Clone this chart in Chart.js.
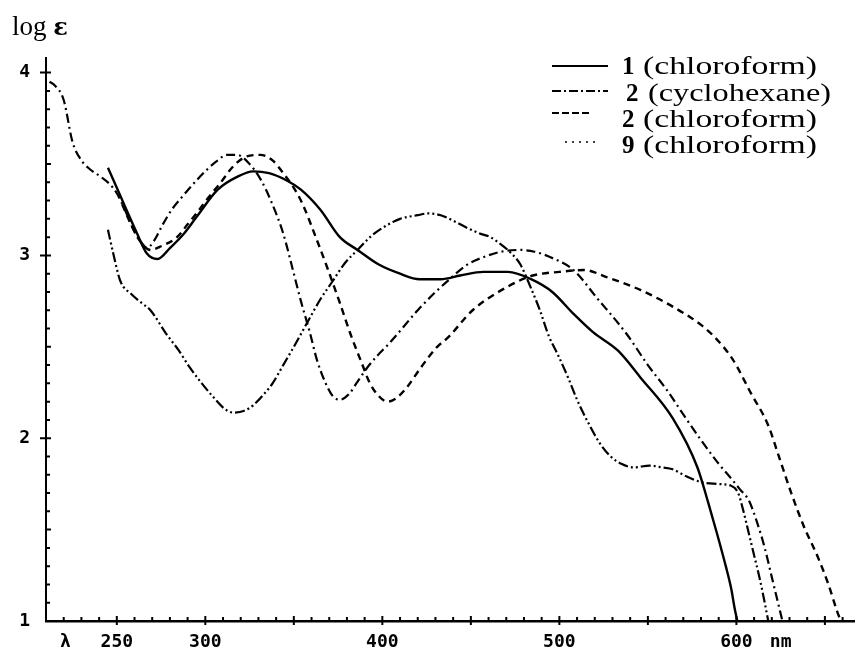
<!DOCTYPE html>
<html>
<head>
<meta charset="utf-8">
<script src="https://cdn.jsdelivr.net/npm/chart.js@4.4.1/dist/chart.umd.min.js"></script>
<style>
  body { margin: 0; background: #fff; }
  #wrap { position: relative; width: 855px; height: 656px; overflow: hidden; }
  #ylabel { position: absolute; left: 12px; top: 11px; font-family: "Liberation Serif", serif; font-size: 27px; color: #000; white-space: nowrap; }
  #ylabel b { font-family: "DejaVu Serif", serif; font-size: 24px; }
  .row { position: absolute; left: 0; height: 30px; white-space: nowrap; font-family: "Liberation Serif", serif; font-size: 25px; color: #000; }
  .row span { position: absolute; top: 0; line-height: 30px; transform-origin: 0 50%; }
  .row .num { font-weight: bold; }
  #samples { position: absolute; left: 0; top: 0; }
</style>
</head>
<body>
<div id="wrap">
  <canvas id="uvChart" width="855" height="656"></canvas>
  <div id="ylabel">log <b>ε</b></div>
  <svg id="samples" width="855" height="200"></svg>
  <div id="legend"></div>
</div>
<script>
// spectra: wavelength (nm) / log eps
const wl1 = [245, 250, 255, 261, 267, 273, 280, 288, 295, 307, 318, 327, 336, 346, 354, 365, 376, 386, 398, 410, 421, 433, 444, 457, 471, 484, 496, 508, 519, 533, 546, 564, 578, 584, 589, 594, 597, 599, 600.5];
const log1 = [3.48, 3.37, 3.26, 3.13, 3.01, 2.98, 3.04, 3.12, 3.21, 3.36, 3.43, 3.46, 3.45, 3.41, 3.36, 3.25, 3.10, 3.03, 2.95, 2.90, 2.87, 2.87, 2.89, 2.91, 2.91, 2.87, 2.80, 2.68, 2.58, 2.48, 2.33, 2.11, 1.84, 1.65, 1.48, 1.30, 1.18, 1.07, 1.0];

const wl2 = [212, 215, 220, 225, 230, 235, 241, 246, 250, 255, 260, 264, 267, 271, 276, 281, 286, 295, 301, 307, 312, 318, 325, 331, 337, 344, 350, 354, 359, 363, 368, 372, 376, 381, 386, 391, 397, 404, 412, 420, 429, 438, 448, 457, 467, 478, 486, 495, 508, 521, 538, 550, 561, 570, 580, 590, 597, 602, 607, 612, 616, 620, 623, 626];
const log2 = [3.95, 3.93, 3.85, 3.62, 3.52, 3.47, 3.43, 3.39, 3.34, 3.24, 3.13, 3.07, 3.04, 3.08, 3.17, 3.25, 3.31, 3.41, 3.47, 3.52, 3.55, 3.55, 3.50, 3.42, 3.30, 3.12, 2.90, 2.75, 2.58, 2.43, 2.30, 2.23, 2.21, 2.24, 2.31, 2.38, 2.45, 2.52, 2.61, 2.70, 2.79, 2.87, 2.95, 2.99, 3.02, 3.03, 3.02, 2.99, 2.92, 2.77, 2.57, 2.40, 2.26, 2.13, 1.99, 1.86, 1.78, 1.72, 1.66, 1.53, 1.40, 1.24, 1.12, 1.0];

const wl3 = [253, 258, 263, 269, 275, 284, 290, 295, 302, 308, 316, 323, 331, 338, 344, 350, 355, 362, 369, 376, 382, 388, 393, 398, 403, 408, 414, 422, 431, 437, 451, 471, 485, 500, 514, 527, 546, 564, 580, 588, 598, 608, 618, 624, 631, 638, 646, 652, 657, 659];
const log3 = [3.28, 3.17, 3.08, 3.03, 3.05, 3.10, 3.17, 3.23, 3.32, 3.39, 3.49, 3.54, 3.55, 3.52, 3.45, 3.37, 3.28, 3.11, 2.93, 2.74, 2.57, 2.42, 2.30, 2.23, 2.20, 2.22, 2.28, 2.39, 2.50, 2.55, 2.70, 2.83, 2.89, 2.91, 2.92, 2.88, 2.81, 2.72, 2.62, 2.55, 2.43, 2.25, 2.07, 1.90, 1.70, 1.52, 1.35, 1.20, 1.05, 1.0];

const wl4 = [245, 248, 252, 258, 264, 269, 278, 285, 291, 298, 305, 311, 316, 322, 327, 333, 338, 344, 350, 358, 365, 372, 379, 386, 393, 400, 410, 420, 426, 433, 440, 448, 455, 461, 467, 473, 478, 484, 489, 494, 499, 505, 510, 516, 523, 529, 535, 542, 551, 558, 564, 572, 580, 589, 597, 601, 604, 607, 610, 613, 616, 618];
const log4 = [3.14, 3.01, 2.86, 2.79, 2.74, 2.70, 2.57, 2.48, 2.39, 2.30, 2.22, 2.16, 2.14, 2.15, 2.18, 2.24, 2.30, 2.40, 2.50, 2.64, 2.76, 2.86, 2.96, 3.03, 3.10, 3.15, 3.20, 3.22, 3.23, 3.22, 3.19, 3.15, 3.12, 3.10, 3.06, 3.01, 2.95, 2.82, 2.70, 2.56, 2.46, 2.33, 2.21, 2.09, 1.97, 1.90, 1.86, 1.84, 1.85, 1.84, 1.83, 1.79, 1.76, 1.75, 1.74, 1.70, 1.60, 1.48, 1.36, 1.24, 1.10, 1.0];

const legendNums = ['1', '2', '2', '9'];
const legendSolvents = ['(chloroform)', '(cyclohexane)', '(chloroform)', '(chloroform)'];

const xTickValues = [221, 250, 300, 400, 500, 600, 625];
const xTickLabels = ['λ', '250', '300', '400', '500', '600', 'nm'];
const yTickValues = [1, 2, 3, 4];

const dashes = [[], [9, 4, 2, 4], [7, 5], [10, 3, 2, 3, 2, 3]];

function pts(xs, ys) {
    return xs.map(function(x, i) { return { x: x, y: ys[i] }; });
}

// little tick marks crossing the axes, like the printed chart
const axisTicks = {
    id: 'axisTicks',
    afterDraw: function(chart) {
        const ctx = chart.ctx;
        const xs = chart.scales.x, ys = chart.scales.y;
        const y0 = ys.getPixelForValue(1);
        const x0 = xs.getPixelForValue(xs.min);
        ctx.save();
        ctx.strokeStyle = '#000';
        ctx.lineWidth = 2;
        ctx.beginPath();
        for (let v = 220; v <= 660; v += 10) {
            const px = xs.getPixelForValue(v);
            const big = v % 50 === 0;
            ctx.moveTo(px, y0 - (big ? 5 : 4));
            ctx.lineTo(px, y0 + (big ? 4 : 1));
        }
        for (let k = 11; k <= 40; k++) {
            const py = ys.getPixelForValue(k / 10);
            const major = k % 10 === 0, half = k % 5 === 0;
            ctx.moveTo(x0 - (major ? 6 : 1), py);
            ctx.lineTo(x0 + (major || half ? 5 : 4), py);
        }
        ctx.stroke();
        ctx.restore();
    }
};

const ctx = document.getElementById('uvChart').getContext('2d');
const uvChart = new Chart(ctx, {
    type: 'line',
    data: {
        datasets: [
            { label: '1 (chloroform)', data: pts(wl1, log1), borderColor: '#000', borderDash: dashes[0], borderWidth: 2.4 },
            { label: '2 (cyclohexane)', data: pts(wl2, log2), borderColor: '#000', borderDash: dashes[1], borderWidth: 2.2 },
            { label: '2 (chloroform)', data: pts(wl3, log3), borderColor: '#000', borderDash: dashes[2], borderWidth: 2.4 },
            { label: '9 (chloroform)', data: pts(wl4, log4), borderColor: '#000', borderDash: dashes[3], borderWidth: 2.2 }
        ]
    },
    options: {
        responsive: false,
        animation: false,
        devicePixelRatio: 1,
        layout: { padding: { top: 58, right: 0, left: 0, bottom: 0 } },
        datasets: {
            line: {
                pointRadius: 0,
                fill: false,
                cubicInterpolationMode: 'monotone'
            }
        },
        plugins: { legend: { display: false }, tooltip: { enabled: false } },
        scales: {
            x: {
                type: 'linear',
                min: 210,
                max: 667,
                afterFit: function(scale) { scale.height = 35; scale.paddingLeft = 0; scale.paddingRight = 0; },
                afterBuildTicks: function(scale) {
                    scale.ticks = xTickValues.map(function(v) { return { value: v }; });
                },
                grid: { display: false, drawTicks: false },
                border: { display: true, color: '#000', width: 2.5 },
                ticks: {
                    autoSkip: false,
                    maxRotation: 0,
                    padding: 11,
                    color: '#000',
                    font: { family: 'DejaVu Sans Mono', size: 18, weight: 'bold' },
                    callback: function(value) {
                        const i = xTickValues.indexOf(value);
                        return i >= 0 ? xTickLabels[i] : '';
                    }
                }
            },
            y: {
                type: 'linear',
                min: 1,
                max: 4.08,
                afterFit: function(scale) { scale.width = 46; scale.paddingTop = 0; scale.paddingBottom = 0; },
                afterBuildTicks: function(scale) {
                    scale.ticks = yTickValues.map(function(v) { return { value: v }; });
                },
                grid: { display: false, drawTicks: false },
                border: { display: true, color: '#000', width: 2 },
                ticks: {
                    padding: 16,
                    color: '#000',
                    font: { family: 'DejaVu Sans Mono', size: 18, weight: 'bold' }
                }
            }
        }
    },
    plugins: [axisTicks]
});

// legend: line samples + text on the right
const rowTops = [51, 78, 104, 130];
const sampleX = [[552, 608], [552, 608], [552, 591], [565, 596]];
const sampleDy = [15, 13, 9, 12];
const textTargets = [174, 183, 174, 174];
const svgNS = 'http://www.w3.org/2000/svg';
const svg = document.getElementById('samples');
const legend = document.getElementById('legend');
for (let i = 0; i < legendNums.length; i++) {
    const ln = document.createElementNS(svgNS, 'line');
    const yy = rowTops[i] + sampleDy[i];
    ln.setAttribute('x1', sampleX[i][0]);
    ln.setAttribute('x2', sampleX[i][1]);
    ln.setAttribute('y1', yy);
    ln.setAttribute('y2', yy);
    ln.setAttribute('stroke', '#000');
    ln.setAttribute('stroke-width', i === 3 ? 1.6 : 2);
    if (i === 1) ln.setAttribute('stroke-dasharray', '9 3 2 3');
    if (i === 2) ln.setAttribute('stroke-dasharray', '7 3');
    if (i === 3) ln.setAttribute('stroke-dasharray', '2 5');
    svg.appendChild(ln);

    const row = document.createElement('div');
    row.className = 'row';
    row.style.top = rowTops[i] + 'px';
    const num = document.createElement('span');
    num.className = 'num';
    num.textContent = legendNums[i];
    num.style.left = (i === 1 ? 626 : 622) + 'px';
    const txt = document.createElement('span');
    txt.textContent = legendSolvents[i];
    txt.style.left = (i === 1 ? 648 : 643) + 'px';
    row.appendChild(num);
    row.appendChild(txt);
    legend.appendChild(row);
    const w = txt.getBoundingClientRect().width;
    txt.style.transform = 'scaleX(' + (textTargets[i] / w).toFixed(3) + ')';
}
</script>
</body>
</html>
